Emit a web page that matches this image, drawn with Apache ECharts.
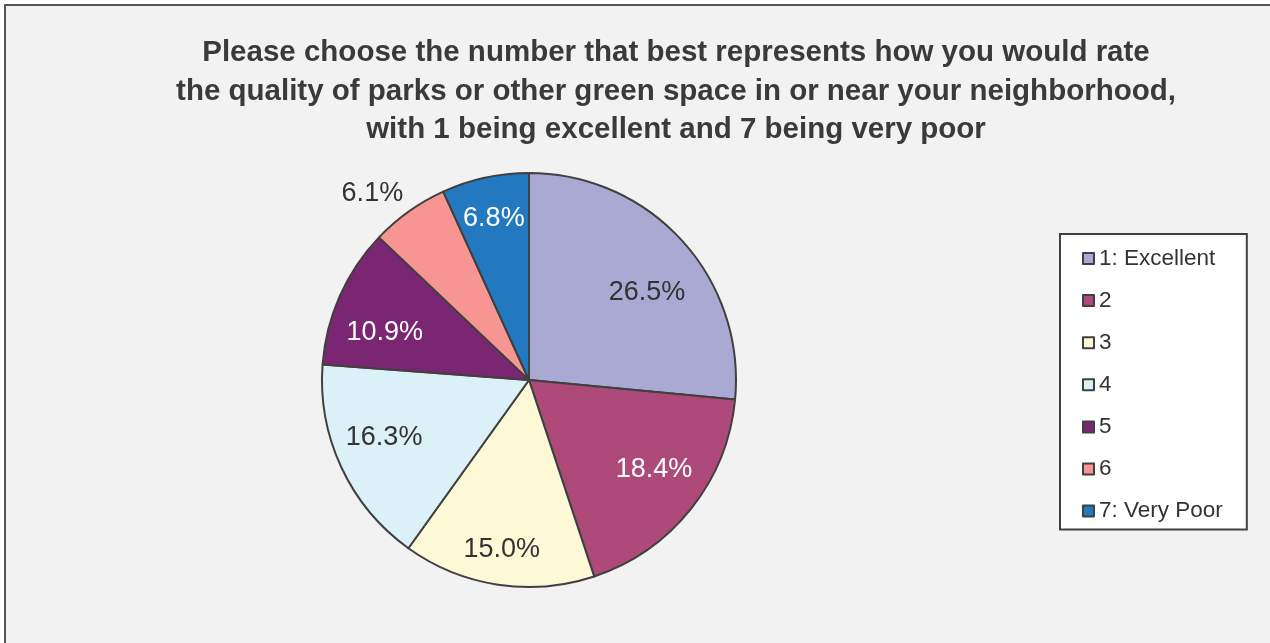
<!DOCTYPE html>
<html>
<head>
<meta charset="utf-8">
<script src="https://cdn.jsdelivr.net/npm/echarts@6/dist/echarts.min.js"></script>
<style>
  html, body { margin: 0; padding: 0; background: #ffffff; }
  #chart { width: 1270px; height: 643px; }
</style>
</head>
<body>
<div id="chart"></div>
<script>
// Survey answers: rating of parks / green space (1 = excellent, 7 = very poor)
const categories = ['1: Excellent', '2', '3', '4', '5', '6', '7: Very Poor'];
const shares = [26.5, 18.4, 15.0, 16.3, 10.9, 6.1, 6.8];
const titleLines = [
  'Please choose the number that best represents how you would rate',
  'the quality of parks or other green space in or near your neighborhood,',
  'with 1 being excellent and 7 being very poor'
];

// Slice fills and the text colour used for each slice's percentage
const sliceColors = ['#aaa9d4', '#ad4a7a', '#fdf9d6', '#dbf0f7', '#7a2672', '#f69592', '#2279bf'];
const labelColors = ['#333333', '#ffffff', '#333333', '#333333', '#ffffff', '#333333', '#ffffff'];
// Slices whose percentage sits outside the pie
const outsideLabel = [false, false, false, false, false, true, false];
// Small per-label nudges (px) applied on top of the library's label placement
const labelNudge = [[-1, 21], [-1, -11], [-3, 10], [1, -11], [3, 18], [7, 0], [-1, -4]];

const FONT = '"Liberation Sans", Arial, Helvetica, sans-serif';
const CENTER = [529, 380];
const RADIUS = 207;
const LABEL_SIZE = 27;

const fmt = p => p.value.toFixed(1) + '%';

const chart = echarts.init(document.getElementById('chart'), null, { renderer: 'canvas' });

const sliceData = shares.map((v, i) => {
  const item = { name: categories[i], value: v, itemStyle: { color: sliceColors[i] } };
  if (outsideLabel[i]) {
    item.label = {
      show: true, position: 'outside', formatter: fmt,
      color: labelColors[i], fontSize: LABEL_SIZE, fontFamily: FONT,
      distanceToLabelLine: 0, offset: labelNudge[i]
    };
    item.labelLine = { show: false, length: 22, length2: 0 };
  }
  return item;
});

const labelData = shares.map((v, i) => ({
  name: categories[i],
  value: v,
  label: { show: !outsideLabel[i], color: labelColors[i], offset: labelNudge[i] }
}));

chart.setOption({
  animation: false,
  backgroundColor: '#ffffff',
  graphic: [{
    type: 'rect', z: -10, silent: true,
    shape: { x: 5, y: 5, width: 1290, height: 660 },
    style: { fill: '#f2f2f2', stroke: '#555555', lineWidth: 2 }
  }],
  title: {
    text: titleLines.join('\n'),
    left: 671,
    top: 29,
    textAlign: 'center',
    textStyle: {
      fontFamily: FONT, fontSize: 29.5, fontWeight: 'bold',
      color: '#3a3a3a', lineHeight: 38.5
    }
  },
  legend: {
    orient: 'vertical',
    left: 1060,
    top: 234,
    data: categories,
    icon: 'rect',
    itemWidth: 11,
    itemHeight: 11,
    itemGap: 19.1,
    padding: [13, 24, 7, 22],
    backgroundColor: '#ffffff',
    borderColor: '#404040',
    borderWidth: 2,
    borderRadius: 0,
    itemStyle: { borderColor: '#404040', borderWidth: 2 },
    textStyle: { fontFamily: FONT, fontSize: 22.5, lineHeight: 22, color: '#333333' },
    selectedMode: false
  },
  series: [
    {
      name: 'Rating',
      type: 'pie',
      center: CENTER,
      radius: RADIUS,
      startAngle: 90,
      clockwise: true,
      avoidLabelOverlap: false,
      itemStyle: { borderColor: '#404040', borderWidth: 2 },
      label: { show: false },
      labelLine: { show: false },
      emphasis: { disabled: true },
      data: sliceData
    },
    {
      // transparent companion ring that places the in-slice percentages
      name: 'Rating labels',
      type: 'pie',
      center: CENTER,
      radius: [0, 316],
      startAngle: 90,
      clockwise: true,
      silent: true,
      avoidLabelOverlap: false,
      itemStyle: { color: 'rgba(0,0,0,0)', borderWidth: 0 },
      label: { position: 'inside', formatter: fmt, fontSize: LABEL_SIZE, fontFamily: FONT },
      labelLine: { show: false },
      emphasis: { disabled: true },
      data: labelData
    }
  ]
});
</script>
</body>
</html>
